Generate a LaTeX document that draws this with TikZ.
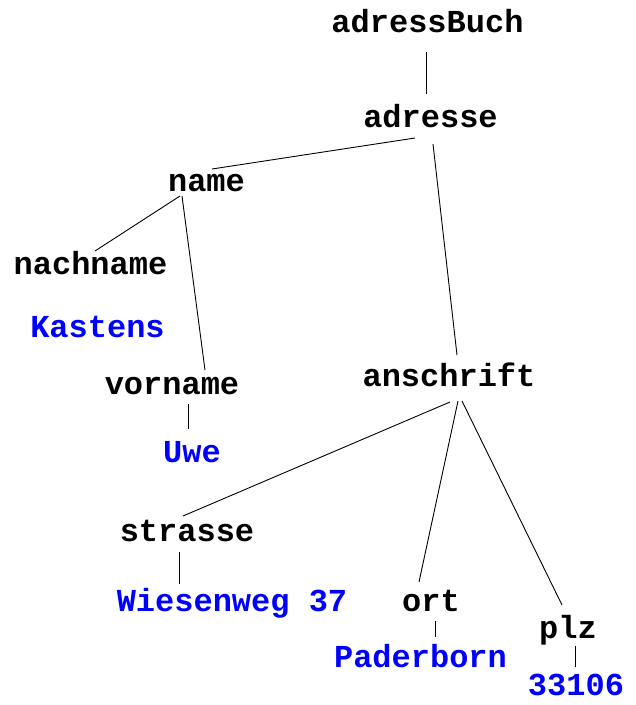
\documentclass[tikz,border=0pt]{standalone}
\usepackage{fontspec}
\newfontfamily\courfont{Liberation Mono}
\definecolor{valblue}{RGB}{0,0,255}
\begin{document}
\begin{tikzpicture}[x=1pt,y=1pt,
  tag/.style={inner sep=0pt,anchor=base,font=\courfont\bfseries\fontsize{32}{36}\selectfont,text=black},
  val/.style={tag,text=valblue},
  edge/.style={line width=0.9pt,black}]
\useasboundingbox (0,0) rectangle (636,-705);
\node[tag] (adressBuch) at (427.5,-32) {adressBuch};
\node[tag] (adresse) at (430.5,-127) {adresse};
\node[tag] (name) at (206.5,-191) {name};
\node[tag] (nachname) at (90.5,-274) {nachname};
\node[val] (kastens) at (97.5,-337) {Kastens};
\node[tag] (vorname) at (172,-394) {vorname};
\node[val] (uwe) at (192,-462) {Uwe};
\node[tag] (anschrift) at (449,-386) {anschrift};
\node[tag] (strasse) at (187,-541) {strasse};
\node[val] (wiesenweg) at (232,-611) {Wiesenweg 37};
\node[tag] (ort) at (431,-611) {ort};
\node[val] (paderborn) at (420.5,-667) {Paderborn};
\node[tag] (plz) at (568,-638) {plz};
\node[val] (plzval) at (576,-695) {33106};
\draw[edge] ([xshift=-1.5pt,yshift=-20pt]adressBuch.base) -- ([xshift=-4.5pt,yshift=33pt]adresse.base);
\draw[edge] ([xshift=-15.5pt,yshift=-11pt]adresse.base) -- ([xshift=5.5pt,yshift=22pt]name.base);
\draw[edge] ([xshift=2.5pt,yshift=-17pt]adresse.base) -- ([xshift=8pt,yshift=31pt]anschrift.base);
\draw[edge] ([xshift=-26.5pt,yshift=-5pt]name.base) -- ([xshift=4.5pt,yshift=23pt]nachname.base);
\draw[edge] ([xshift=-24.5pt,yshift=-5pt]name.base) -- ([xshift=33pt,yshift=24pt]vorname.base);
\draw[edge] ([xshift=16.5pt,yshift=-10pt]vorname.base) -- ([xshift=-3.5pt,yshift=33pt]uwe.base);
\draw[edge] ([xshift=1pt,yshift=-16pt]anschrift.base) -- ([xshift=-4pt,yshift=25pt]strasse.base);
\draw[edge] ([xshift=9pt,yshift=-15pt]anschrift.base) -- ([xshift=-12pt,yshift=29pt]ort.base);
\draw[edge] ([xshift=13pt,yshift=-15pt]anschrift.base) -- ([xshift=-6pt,yshift=33pt]plz.base);
\draw[edge] ([xshift=-8pt,yshift=-11pt]strasse.base) -- ([xshift=-53pt,yshift=27pt]wiesenweg.base);
\draw[edge] ([xshift=4pt,yshift=-10pt]ort.base) -- ([xshift=14.5pt,yshift=30pt]paderborn.base);
\draw[edge] ([xshift=7pt,yshift=-8pt]plz.base) -- ([xshift=-1pt,yshift=28pt]plzval.base);
\end{tikzpicture}
\end{document}
